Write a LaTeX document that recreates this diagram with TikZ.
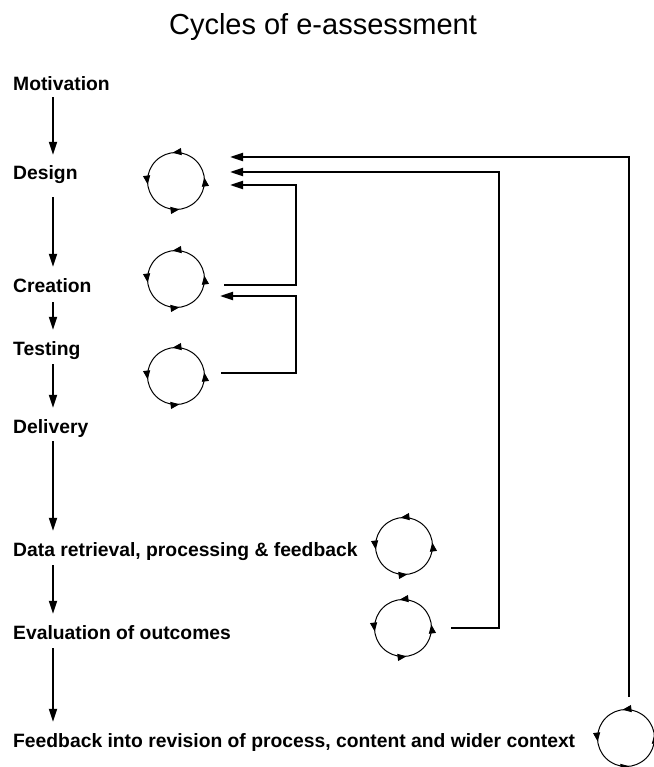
\documentclass[tikz,border=0pt]{standalone}
\usepackage{fontspec}
\setmainfont{Liberation Sans}
\usetikzlibrary{arrows.meta,decorations.markings,calc}

% radius of the small process cycles
\newcommand\cycr{28.5}
% a small cycle: named node plus a counter-clockwise circle with four arrowheads
\newcommand\cycle[2]{%
  \node[cycnode] (#1) at (#2) {};
  \draw[cycline] (#1.center) ++(45:\cycr) arc[start angle=45, end angle=-315, radius=\cycr];
}

\begin{document}
\begin{tikzpicture}[x=1pt, y=-1pt,
  stage/.style={anchor=base west, inner sep=0pt, text height=25pt, text depth=6pt,
                font=\bfseries\fontsize{19.3}{23}\selectfont},
  heading/.style={anchor=base, inner sep=0pt, font=\fontsize{29}{34}\selectfont},
  mainarrow/.style={line width=2pt, -{Triangle[length=13pt, width=8pt]}},
  link/.style={line width=2pt, -{Triangle[length=13pt, width=8pt]}},
  cycnode/.style={circle, minimum size=57pt, inner sep=0pt},
  cyctip/.style={},
  cycline/.style={line width=1pt, postaction=decorate, decoration={markings,
      mark=at position 0.145 with {\arrow{Triangle[length=9pt, width=7pt]}},
      mark=at position 0.395 with {\arrow{Triangle[length=9pt, width=7pt]}},
      mark=at position 0.645 with {\arrow{Triangle[length=9pt, width=7pt]}},
      mark=at position 0.895 with {\arrow{Triangle[length=9pt, width=7pt]}}}}]

\fill[white] (0,0) rectangle (653,767);
\useasboundingbox (0,0) rectangle (653,767);

% title
\node[heading] (title) at (323,35) {Cycles of e-assessment};

% stages of the process
\node[stage] (mot) at (13,91)  {Motivation};
\node[stage] (des) at (13,180) {Design};
\node[stage] (cre) at (13,292) {Creation};
\node[stage] (tes) at (13,355) {Testing};
\node[stage] (del) at (13,433) {Delivery};
\node[stage] (dat) at (13,556) {Data retrieval, processing \& feedback};
\node[stage] (eva) at (13,639) {Evaluation of outcomes};
\node[stage] (fee) at (13,747) {Feedback into revision of process, content and wider context};

% downward flow between stages
\coordinate (axis) at (53,0);
\draw[mainarrow] (mot.south -| axis) -- (des.north -| axis);
\draw[mainarrow, shorten <=11pt] (des.south -| axis) -- (cre.north -| axis);
\draw[mainarrow, shorten <=4pt] (cre.south -| axis) -- (tes.north -| axis);
\draw[mainarrow, shorten <=3pt] (tes.south -| axis) -- (del.north -| axis);
\draw[mainarrow, shorten <=2pt] (del.south -| axis) -- (dat.north -| axis);
\draw[mainarrow, shorten <=3pt] (dat.south -| axis) -- (eva.north -| axis);
\draw[mainarrow, shorten <=3pt] (eva.south -| axis) -- (fee.north -| axis);

% iteration cycles
\cycle{dc}{176,181}
\cycle{cc}{176,279}
\cycle{tc}{176,376}
\cycle{rc}{404,546}
\cycle{ec}{403,628}
\cycle{fc}{626,738}

% ports of the feedback loops
\coordinate (din1) at (230,157);
\coordinate (din2) at (230,172);
\coordinate (din3) at (230,185);
\coordinate (cin)  at (220,296);
\coordinate (fbout) at (629,697);
\coordinate (evout) at (451,628);
\coordinate (evbend) at (499,628);
\coordinate (crout) at (224,285);
\coordinate (crbend) at (296,285);
\coordinate (teout) at (221,373);
\coordinate (tebend) at (296,373);

% feedback loops back into earlier stages
\draw[link] (fbout) |- (din1);
\draw[link] (evout) -- (evbend) |- (din2);
\draw[link] (crout) -- (crbend) |- (din3);
\draw[link] (teout) -- (tebend) |- (cin);

\end{tikzpicture}
\end{document}
